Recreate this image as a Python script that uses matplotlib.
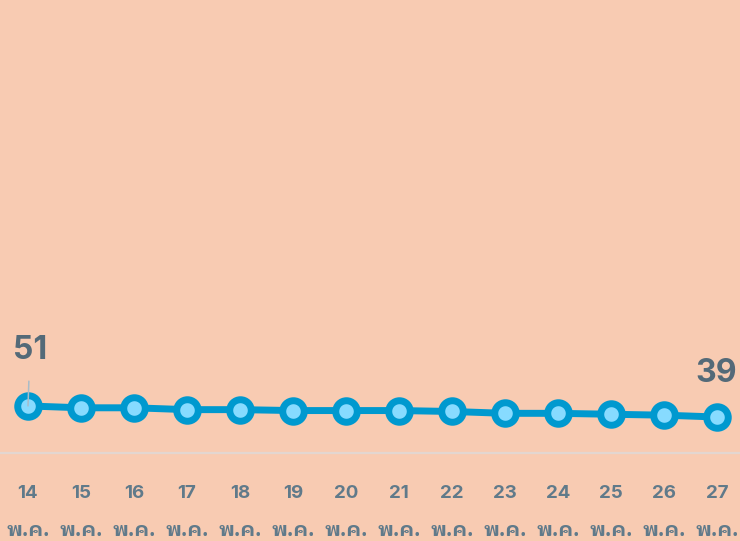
import matplotlib
matplotlib.use('Agg')
import matplotlib.pyplot as plt

# Data
days = [14, 15, 16, 17, 18, 19, 20, 21, 22, 23, 24, 25, 26, 27]
month = 'พ.ค.'
values = [51, 49, 49, 47, 47, 46, 46, 46, 45, 43, 43, 42, 41, 39]

bg = '#F8CBB2'
tick_color = '#607A8A'
num_font = ['Inter', 'DejaVu Sans']
thai_font = ['IBM Plex Sans Thai Looped', 'Sarabun', 'DejaVu Sans']

fig = plt.figure(figsize=(7.4, 5.41), dpi=100, facecolor=bg)
ax = fig.add_axes([0, 88 / 541, 1, 453 / 541])
ax.set_facecolor(bg)

x = list(range(len(days)))
ax.plot(x, values, color='#0099CF', lw=5, marker='o', ms=15.5, mew=5,
        mec='#0099CF', mfc='#87DBFF', zorder=3)

ax.set_xlim(-28 / 53, 13 + 23 / 53)
ax.set_ylim(0, 491)

for s in ax.spines.values():
    s.set_visible(False)
ax.axhline(0, color='#E3D6D0', lw=1.6, zorder=1, clip_on=False)
ax.set_yticks([])
ax.set_xticks([])

# x labels: day number and month on two rows
trans = ax.get_xaxis_transform()
for i, d in zip(x, days):
    ax.text(i, -41 / 453, str(d), transform=trans, ha='center', va='center',
            fontsize=13.5, fontweight='bold', family=num_font, color=tick_color)
    ax.text(i, -77 / 453, month, transform=trans, ha='center', va='center',
            fontsize=14.5, fontweight='bold', family=thai_font, color=tick_color)

# first / last labels
ax.annotate('51', xy=(0, values[0]), xytext=(1.4, 40), textcoords='offset points',
            ha='center', va='center', fontsize=23, fontweight='bold',
            family=num_font, color='#546A78', zorder=4,
            arrowprops=dict(arrowstyle='-', color='#A9BCC8', lw=1.1,
                            shrinkA=9, shrinkB=0))
ax.annotate('39', xy=(13, values[-1]), xytext=(-0.5, 31), textcoords='offset points',
            ha='center', va='center', fontsize=23, fontweight='bold',
            family=num_font, color='#546A78')

fig.savefig('out.png', dpi=100, facecolor=bg)
